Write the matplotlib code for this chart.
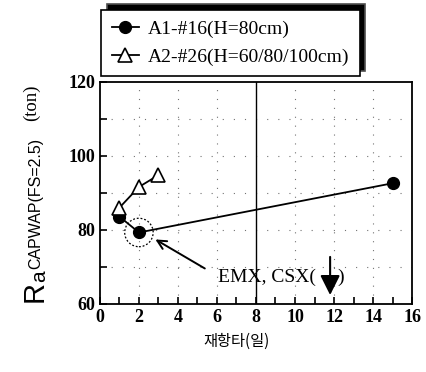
import matplotlib.pyplot as plt

# data
a1_days = [1, 2, 15]
a1_ra = [83.6, 79.3, 92.6]
a2_days = [1, 2, 3]
a2_ra = [86.0, 91.6, 94.8]
a1_label = 'A1-#16(H=80cm)'
a2_label = 'A2-#26(H=60/80/100cm)'
x_ticks = [0, 2, 4, 6, 8, 10, 12, 14, 16]
y_ticks = [60, 80, 100, 120]

serif = 'Liberation Serif'
sans = 'Liberation Sans'
W, H = 427, 372


def px(x, y):
    # pixel position (from top left) -> figure fraction
    return x / W, 1 - y / H


fig = plt.figure(figsize=(W / 100, H / 100), dpi=100)
ax = fig.add_axes([0.234, 0.183, 0.731, 0.597])

l1, = ax.plot(a1_days, a1_ra, '-o', color='k', lw=1.3, ms=8.5, mfc='k', zorder=3)
l2, = ax.plot(a2_days, a2_ra, '-^', color='k', lw=1.3, ms=9.5, mfc='white', mew=1.2, zorder=3)

ax.set_xlim(0, 16)
ax.set_ylim(60, 120)
ax.set_xticks(x_ticks)
ax.set_xticks(range(0, 17), minor=True)
ax.set_yticks(y_ticks)
ax.set_yticks(range(60, 121, 10), minor=True)
ax.tick_params(which='both', direction='in', width=1.2, length=5)
for lab in ax.get_xticklabels() + ax.get_yticklabels():
    lab.set_fontfamily(serif)
    lab.set_fontweight('bold')
    lab.set_fontsize(13)
for s in ax.spines.values():
    s.set_linewidth(1.3)

# sparse dotted grid and the solid line at 8 days
for gx in [2, 4, 6, 10, 12, 14]:
    ax.axvline(gx, color='0.45', lw=0.8, ls=(0, (1, 7)), zorder=1)
for gy in [70, 80, 90, 100, 110]:
    ax.axhline(gy, color='0.45', lw=0.8, ls=(0, (1, 9)), zorder=1)
ax.axvline(8, color='k', lw=1.0, zorder=1)

# dashed circle round the 2-day point and the annotation
ax.scatter([a1_days[1]], [a1_ra[1]], s=420, facecolors='none', edgecolors='k',
           linewidths=0.9, linestyles=(0, (1.5, 1.5)), zorder=2)
ax.annotate('', xy=(2.72, 77.8), xytext=(5.5, 69.2),
            arrowprops=dict(arrowstyle='->', color='k', lw=1.4, mutation_scale=16))
ax.text(6.05, 67.3, 'EMX, CSX(', fontfamily=serif, fontsize=14, va='center', ha='left')
ax.text(12.15, 67.3, ')', fontfamily=serif, fontsize=14, va='center', ha='left')
ax.annotate('', xy=(11.8, 62.4), xytext=(11.8, 72.7),
            arrowprops=dict(arrowstyle='-|>', color='k', lw=1.5, mutation_scale=30,
                            shrinkA=0, shrinkB=0))

ax.set_xlabel('재항타(일)', fontfamily=['Noto Sans CJK KR', 'DejaVu Sans'], fontsize=11)
ax.xaxis.set_label_coords(0.436, -0.13)

# y label built from pieces: R, subscript a, superscript, unit
lbl = dict(rotation=90, rotation_mode='anchor', ha='left', va='baseline')
fig.text(*px(43, 302), 'R', fontfamily=sans, fontsize=21, **lbl)
fig.text(*px(45, 282), 'a', fontfamily=sans, fontsize=15, **lbl)
fig.text(*px(40, 269), 'CAPWAP(FS=2.5)', fontfamily=sans, fontsize=11.5, **lbl)
fig.text(*px(36, 121), '(ton)', fontfamily=serif, fontsize=13.5, **lbl)

leg = fig.legend([l1, l2], [a1_label, a2_label], loc='upper left',
                 bbox_to_anchor=px(101, 10), borderaxespad=0,
                 prop={'family': serif, 'size': 14},
                 frameon=True, fancybox=False, edgecolor='k', framealpha=1,
                 handlelength=1.4, handletextpad=0.45, borderpad=0.55, labelspacing=0.5,
                 shadow={'ox': 4, 'oy': 4, 'facecolor': 'k', 'alpha': 1})
leg.get_frame().set_linewidth(1.2)

fig.savefig('out.png', dpi=100)
